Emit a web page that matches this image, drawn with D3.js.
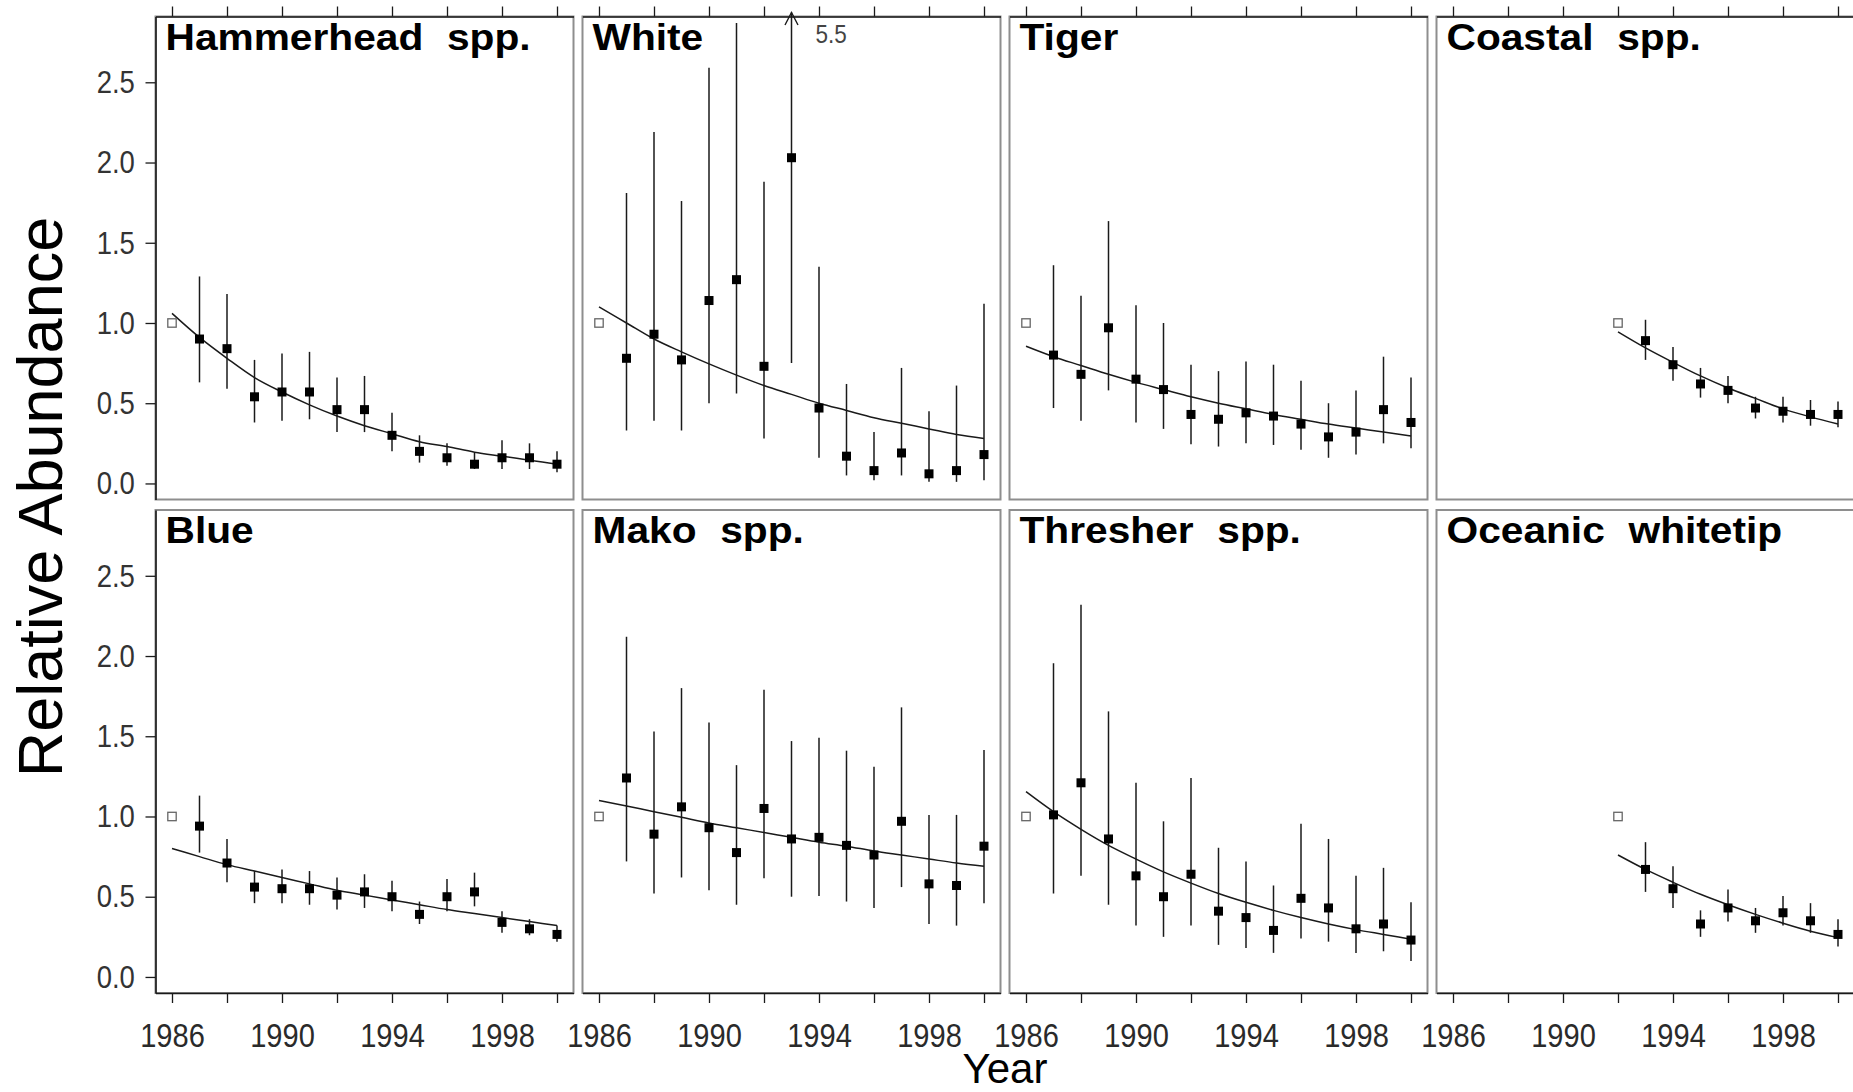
<!DOCTYPE html>
<html>
<head>
<meta charset="utf-8">
<script src="https://cdn.jsdelivr.net/npm/d3@7"></script>
<style>
  body { margin: 0; background: #fff; }
  svg { display: block; font-family: "Liberation Sans", Arial, Helvetica, sans-serif; }
</style>
</head>
<body>
<div id="chart"></div>
<script>
// ---- data ----
const panelTitles = ["Hammerhead  spp.", "White", "Tiger", "Coastal  spp.",
                     "Blue", "Mako  spp.", "Thresher  spp.", "Oceanic  whitetip"];
const refYears = [1986, 1986, 1986, 1992, 1986, 1986, 1986, 1992];   // open square = 1.0
const yearsAll = [1987, 1988, 1989, 1990, 1991, 1992, 1993, 1994, 1995, 1996, 1997, 1998, 1999, 2000];
const yearsLate = [1993, 1994, 1995, 1996, 1997, 1998, 1999, 2000];
const fitYearsAll = [1986, 1987, 1988, 1989, 1990, 1991, 1992, 1993, 1994, 1995, 1996, 1997, 1998, 1999, 2000];
const fitYearsLate = [1992, 1993, 1994, 1995, 1996, 1997, 1998, 1999, 2000];

const hammerEst = [0.90, 0.84, 0.54, 0.57, 0.57, 0.46, 0.46, 0.30, 0.20, 0.16, 0.12, 0.16, 0.16, 0.12];
const hammerLo  = [0.63, 0.59, 0.38, 0.39, 0.40, 0.32, 0.32, 0.20, 0.13, 0.11, 0.09, 0.09, 0.09, 0.07];
const hammerHi  = [1.29, 1.18, 0.77, 0.81, 0.82, 0.66, 0.67, 0.44, 0.30, 0.25, 0.19, 0.27, 0.25, 0.20];
const hammerFit = [1.06, 0.91, 0.78, 0.66, 0.57, 0.49, 0.42, 0.36, 0.31, 0.26, 0.23, 0.195, 0.17, 0.145, 0.12];

const whiteEst = [0.78, 0.93, 0.77, 1.14, 1.27, 0.73, 2.03, 0.47, 0.17, 0.08, 0.19, 0.06, 0.08, 0.18];
const whiteLo  = [0.33, 0.39, 0.33, 0.50, 0.56, 0.28, 0.75, 0.16, 0.05, 0.02, 0.05, 0.01, 0.01, 0.02];
const whiteHi  = [1.81, 2.19, 1.76, 2.59, 2.87, 1.88, 5.5, 1.35, 0.62, 0.32, 0.72, 0.45, 0.61, 1.12];
const whiteFit = [1.10, 1.00, 0.90, 0.82, 0.745, 0.675, 0.61, 0.555, 0.50, 0.455, 0.41, 0.375, 0.34, 0.305, 0.28];

const tigerEst = [0.80, 0.68, 0.97, 0.65, 0.585, 0.43, 0.40, 0.44, 0.42, 0.37, 0.29, 0.32, 0.46, 0.38];
const tigerLo  = [0.47, 0.39, 0.58, 0.38, 0.34, 0.245, 0.23, 0.25, 0.24, 0.21, 0.16, 0.18, 0.25, 0.22];
const tigerHi  = [1.36, 1.17, 1.635, 1.11, 1.00, 0.74, 0.70, 0.76, 0.74, 0.64, 0.50, 0.58, 0.79, 0.66];
const tigerFit = [0.855, 0.79, 0.735, 0.68, 0.63, 0.585, 0.54, 0.50, 0.465, 0.43, 0.40, 0.37, 0.345, 0.32, 0.295];

const coastalEst = [0.89, 0.74, 0.62, 0.58, 0.47, 0.45, 0.43, 0.43];
const coastalLo  = [0.77, 0.64, 0.535, 0.50, 0.405, 0.38, 0.36, 0.35];
const coastalHi  = [1.02, 0.85, 0.72, 0.67, 0.54, 0.54, 0.52, 0.51];
const coastalFit = [0.945, 0.845, 0.755, 0.67, 0.595, 0.53, 0.465, 0.415, 0.37];

const blueEst = [0.94, 0.71, 0.56, 0.55, 0.55, 0.51, 0.53, 0.50, 0.39, 0.50, 0.53, 0.34, 0.30, 0.265];
const blueLo  = [0.775, 0.59, 0.46, 0.46, 0.45, 0.42, 0.43, 0.41, 0.33, 0.41, 0.44, 0.275, 0.26, 0.22];
const blueHi  = [1.13, 0.86, 0.66, 0.67, 0.66, 0.62, 0.64, 0.60, 0.47, 0.61, 0.65, 0.41, 0.36, 0.32];
const blueFit = [0.80, 0.75, 0.70, 0.66, 0.62, 0.58, 0.54, 0.51, 0.48, 0.45, 0.42, 0.395, 0.37, 0.345, 0.32];

const makoEst = [1.24, 0.89, 1.06, 0.93, 0.775, 1.05, 0.86, 0.87, 0.82, 0.76, 0.97, 0.58, 0.57, 0.815];
const makoLo  = [0.72, 0.52, 0.62, 0.54, 0.45, 0.615, 0.50, 0.505, 0.47, 0.43, 0.56, 0.33, 0.32, 0.46];
const makoHi  = [2.12, 1.53, 1.80, 1.585, 1.32, 1.79, 1.47, 1.49, 1.41, 1.31, 1.68, 1.01, 1.01, 1.415];
const makoFit = [1.10, 1.065, 1.03, 0.995, 0.96, 0.93, 0.90, 0.87, 0.84, 0.815, 0.785, 0.76, 0.735, 0.71, 0.69];

const threshEst = [1.01, 1.21, 0.86, 0.63, 0.50, 0.64, 0.41, 0.37, 0.29, 0.49, 0.43, 0.30, 0.33, 0.23];
const threshLo  = [0.52, 0.63, 0.45, 0.32, 0.25, 0.32, 0.20, 0.18, 0.15, 0.24, 0.22, 0.15, 0.16, 0.10];
const threshHi  = [1.955, 2.32, 1.655, 1.21, 0.97, 1.24, 0.805, 0.72, 0.57, 0.955, 0.86, 0.63, 0.68, 0.465];
const threshFit = [1.155, 1.03, 0.92, 0.82, 0.735, 0.655, 0.585, 0.52, 0.465, 0.415, 0.37, 0.33, 0.295, 0.265, 0.235];

const oceanicEst = [0.67, 0.55, 0.33, 0.43, 0.35, 0.40, 0.35, 0.265];
const oceanicLo  = [0.53, 0.43, 0.25, 0.345, 0.275, 0.32, 0.275, 0.19];
const oceanicHi  = [0.84, 0.69, 0.415, 0.545, 0.43, 0.505, 0.46, 0.36];
const oceanicFit = [0.76, 0.67, 0.59, 0.515, 0.45, 0.39, 0.335, 0.285, 0.245];

const xTickYears = [1986, 1988, 1990, 1992, 1994, 1996, 1998, 2000];
const xLabelYears = [1986, 1990, 1994, 1998];
const yTickValues = [0, 0.5, 1, 1.5, 2, 2.5];

// table built from the arrays above
const panels = [
  [yearsAll, hammerEst, hammerLo, hammerHi, fitYearsAll, hammerFit],
  [yearsAll, whiteEst, whiteLo, whiteHi, fitYearsAll, whiteFit],
  [yearsAll, tigerEst, tigerLo, tigerHi, fitYearsAll, tigerFit],
  [yearsLate, coastalEst, coastalLo, coastalHi, fitYearsLate, coastalFit],
  [yearsAll, blueEst, blueLo, blueHi, fitYearsAll, blueFit],
  [yearsAll, makoEst, makoLo, makoHi, fitYearsAll, makoFit],
  [yearsAll, threshEst, threshLo, threshHi, fitYearsAll, threshFit],
  [yearsLate, oceanicEst, oceanicLo, oceanicHi, fitYearsLate, oceanicFit]
].map(function (p, i) {
  return {
    title: panelTitles[i],
    ref: refYears[i],
    points: p[0].map((yr, j) => ({year: yr, est: p[1][j], lo: p[2][j], hi: p[3][j]})),
    fit: p[4].map((yr, j) => ({year: yr, v: p[5][j]}))
  };
});

// ---- layout ----
const W = 1853, H = 1092;
const left0 = 155.5, top0 = 16.5, panelW = 418, panelH = 483, colGap = 9, rowGap = 10.5;
const ink = "#1a1a1a";

const x = d3.scaleLinear().domain([1985.4, 2000.6]).range([0, panelW]);
const y = d3.scaleLinear().domain([-0.1, 2.91]).range([panelH, 0]);

const svg = d3.select("#chart").append("svg")
  .attr("width", W)
  .attr("height", H);
svg.append("rect").attr("width", W).attr("height", H).attr("fill", "#fff");

const fitLine = d3.line()
  .x(d => x(d.year))
  .y(d => y(d.v))
  .curve(d3.curveMonotoneX);

panels.forEach(function (p, i) {
  const col = i % 4, row = Math.floor(i / 4);
  const g = svg.append("g")
    .attr("transform", `translate(${left0 + col * (panelW + colGap)},${top0 + row * (panelH + rowGap)})`);

  // frame
  g.append("rect")
    .attr("width", panelW).attr("height", panelH)
    .attr("fill", "none").attr("stroke", "#8e8e8e").attr("stroke-width", 2);

  // outer axes
  if (row === 0) {
    const ax = g.append("g").attr("color", ink)
      .call(d3.axisTop(x).tickValues(xTickYears).tickSize(10).tickSizeOuter(0).tickFormat(""));
    ax.select(".domain").attr("stroke-width", 1.6);
    ax.selectAll(".tick line").attr("stroke-width", 1.3);
  } else {
    const ax = g.append("g").attr("color", ink)
      .attr("transform", `translate(0,${panelH})`)
      .call(d3.axisBottom(x).tickValues(xTickYears).tickSize(10).tickSizeOuter(0).tickPadding(21)
        .tickFormat(d => xLabelYears.includes(d) ? d : ""));
    ax.select(".domain").attr("stroke-width", 1.6);
    ax.selectAll(".tick line").attr("stroke-width", 1.3);
    ax.selectAll(".tick text")
      .attr("font-size", 33).attr("fill", "#2a2a2a")
      .attr("font-family", "'Liberation Sans', Arial, sans-serif")
      .attr("transform", "scale(0.88,1)");
  }
  if (col === 0) {
    const ay = g.append("g").attr("color", ink)
      .call(d3.axisLeft(y).tickValues(yTickValues).tickSize(10).tickSizeOuter(0).tickPadding(14)
        .tickFormat(d3.format(".1f")));
    ay.select(".domain").attr("stroke-width", 1.6);
    ay.selectAll(".tick line").attr("stroke-width", 1.3);
    ay.selectAll(".tick text")
      .attr("font-size", 32).attr("fill", "#333")
      .attr("font-family", "'Liberation Sans', Arial, sans-serif")
      .attr("transform", "scale(0.86,1)");
  }

  // title
  g.append("text")
    .attr("transform", "translate(10,33) scale(1.1,1)")
    .attr("font-size", 37)
    .attr("font-weight", "bold")
    .attr("fill", "#000")
    .style("white-space", "pre")
    .style("word-spacing", "0.5px")
    .text(p.title);

  // fitted trend
  g.append("path")
    .datum(p.fit)
    .attr("d", fitLine)
    .attr("fill", "none")
    .attr("stroke", ink)
    .attr("stroke-width", 1.5);

  // error bars
  const yTop = y.domain()[1];
  g.selectAll(".bar")
    .data(p.points)
    .enter().append("line")
    .attr("class", "bar")
    .attr("x1", d => x(d.year)).attr("x2", d => x(d.year))
    .attr("y1", d => y(d.lo))
    .attr("y2", d => d.hi > yTop ? -4 : y(d.hi))
    .attr("stroke", ink)
    .attr("stroke-width", 1.5);

  // off-scale upper limits: arrow + value
  const over = p.points.filter(d => d.hi > yTop);
  g.selectAll(".arrow")
    .data(over)
    .enter().append("path")
    .attr("class", "arrow")
    .attr("d", d => `M${x(d.year) - 6.5},${8.5}L${x(d.year)},${-4}L${x(d.year) + 6.5},${8.5}`)
    .attr("fill", "none")
    .attr("stroke", ink)
    .attr("stroke-width", 1.4);
  g.selectAll(".overlabel")
    .data(over)
    .enter().append("text")
    .attr("class", "overlabel")
    .attr("transform", d => `translate(${x(d.year) + 24},26) scale(0.9,1)`)
    .attr("font-size", 25)
    .attr("fill", "#444")
    .text(d => d.hi);

  // reference year (open square)
  g.append("rect")
    .attr("x", x(p.ref) - 4.2).attr("y", y(1) - 4.2)
    .attr("width", 8.4).attr("height", 8.4)
    .attr("fill", "#fff")
    .attr("stroke", "#666")
    .attr("stroke-width", 1.3);

  // estimates
  g.selectAll(".pt")
    .data(p.points)
    .enter().append("rect")
    .attr("class", "pt")
    .attr("x", d => x(d.year) - 4.5)
    .attr("y", d => y(d.est) - 4.5)
    .attr("width", 9).attr("height", 9)
    .attr("fill", "#000");
});

// axis titles
svg.append("text")
  .attr("x", 1005).attr("y", 1083)
  .attr("text-anchor", "middle")
  .attr("font-size", 42)
  .attr("fill", "#000")
  .text("Year");

svg.append("text")
  .attr("transform", "translate(62,497) rotate(-90)")
  .attr("text-anchor", "middle")
  .attr("font-size", 63)
  .attr("fill", "#000")
  .text("Relative Abundance");
</script>
</body>
</html>
